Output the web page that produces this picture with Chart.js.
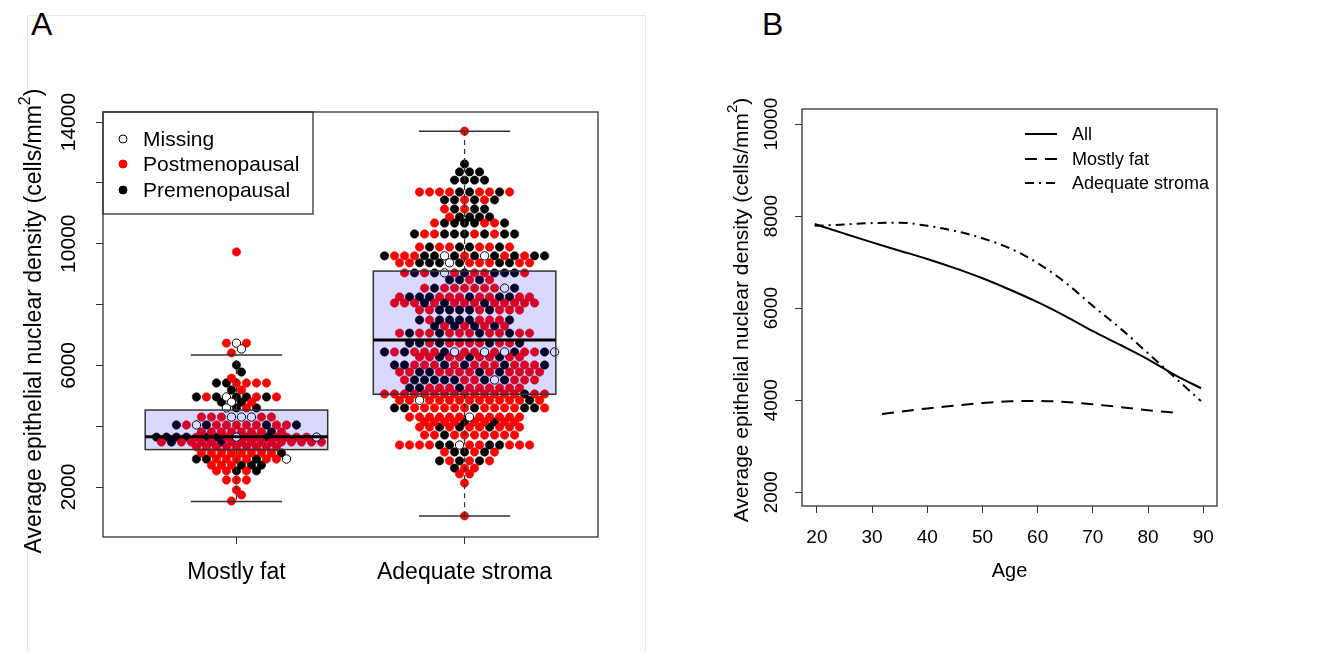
<!DOCTYPE html>
<html>
<head>
<meta charset="utf-8">
<script src="https://cdn.jsdelivr.net/npm/chart.js@4.4.1/dist/chart.umd.min.js"></script>
<style>
  body { margin: 0; background: #fff; width: 1326px; height: 652px; overflow: hidden; position: relative;
         font-family: 'Liberation Sans', Arial, sans-serif; }
  #frameA { position: absolute; left: 27px; top: 15px; width: 619px; height: 660px; border: 1px solid #e6e6e6; box-sizing: border-box; }
  .tag { position: absolute; font-size: 32px; line-height: 32px; color: #000; }
  canvas { position: absolute; top: 0; }
</style>
</head>
<body>
<div id="frameA"></div>
<div class="tag" style="left:31px;top:8px">A</div>
<div class="tag" style="left:762px;top:8px">B</div>
<canvas id="chartA" width="650" height="652" style="left:0"></canvas>
<canvas id="chartB" width="676" height="652" style="left:650px"></canvas>
<script>
const FONT = "'Liberation Sans', Arial, sans-serif";

// ---- panel A: beeswarm + boxplot ----
const groups = ['Mostly fat', 'Adequate stroma'];
const statusNames = ['Missing', 'Postmenopausal', 'Premenopausal'];

// swarm rows: density of the row and status of each dot
// (o = missing, r = postmenopausal, k = premenopausal), left to right
const fatRowY = [9730, 6730, 6540, 6410, 6010, 5780, 5580, 5420, 5190, 4960, 4790, 4600, 4300,
                 4040, 3810, 3640, 3480, 3320, 3120, 2920, 2720, 2530, 2230, 1900, 1740, 1540];
const fatRowPts = ['r', 'ror', 'o', 'r', 'k', 'k', 'r', 'kkrrrr', 'kr', 'krkokkrkr', 'kokr', 'okrk', 'rrrooorr',
                   'krokrrrrrkrrk', 'rrrrrrrkr', 'kkkkrkkrorrkrrrro', 'rkrrrrkrrrrrrrrrr', 'rrrrrrrrr', 'rrrrrrrrk',
                   'kkrrrrkrro', 'rrrkkk', 'rrkrk', 'rrr', 'r', 'r', 'r'];

const stromaRowY = [13700, 12620, 12360, 12090, 11700, 11440, 11140, 10880, 10680, 10320, 9890, 9600, 9370,
                    9040, 8810, 8540, 8250, 8050, 7820, 7490, 7290, 7060, 6730, 6440, 6270, 6010, 5780, 5520,
                    5260, 5060, 4850, 4600, 4300, 4140, 3970, 3710, 3380, 3150, 2860, 2620, 2430, 2130, 1050];
const stromaRowPts = ['r', 'k', 'kkk', 'kkkk', 'rrrrkkrrkr', 'kkrkrk', 'rkrkk', 'rkkkk', 'rkkkkrrk', 'krrkkkrkrkk',
                      'rkrrkkrrkr', 'krrrkkokrkokrkrkk', 'rrkkkokrrrkkrr', 'rkrkorkrrkkkr', 'kkrkr', 'rkrrrrrrok',
                      'rkkkrrrkrrkkrr', 'rrrkrkrrrkrrrrr', 'rrkkkkrkrrr', 'krkkkkrrrk', 'krkrkrkr', 'rkrrkrrrkrrkrr',
                      'kkrkrrrrkrrk', 'krkrrrkorrorokrrko', 'rrkrrkrrkrr', 'kkrrrkrkrrrkrrrk', 'rrkkrrrrkrkrrrr',
                      'rkkkkkrrkokrrr', 'kkrrrkrrrrrr', 'rrrrrrrrrrrrrrkrr', 'rrorrrrrrrrrrkr', 'kkrrrrrrkrrrrkkr',
                      'rrrrrrorrrrr', 'rrrrkrrkrr', 'rrkrkrrkrrr', 'rrkrrrrrrr', 'rrrrkkorrkkrrr', 'rkkrkr', 'krkrkr',
                      'krr', 'rr', 'r', 'r'];

// box statistics
const boxLow = [1520, 1050];
const boxQ1 = [3230, 5050];
const boxMedian = [3650, 6830];
const boxQ3 = [4530, 9100];
const boxHigh = [6340, 13700];

const densityTicksA = [2000, 4000, 6000, 8000, 10000, 12000, 14000];
const densityLabelsA = [2000, 6000, 10000, 14000];

// ---- panel B: fitted curves ----
const ageTicks = [20, 30, 40, 50, 60, 70, 80, 90];
const densityTicksB = [2000, 4000, 6000, 8000, 10000];
const curveNames = ['All', 'Mostly fat', 'Adequate stroma'];
const ageAll = [19.6, 25, 30, 35, 40, 45, 50, 55, 60, 65, 70, 75, 80, 85, 89.6];
const densAll = [7830, 7620, 7430, 7250, 7070, 6870, 6650, 6400, 6130, 5830, 5500, 5200, 4890, 4540, 4260];
const ageFat = [31.8, 35, 40, 45, 50, 55, 60, 65, 70, 75, 80, 84.6];
const densFat = [3700, 3750, 3820, 3880, 3940, 3975, 3985, 3960, 3910, 3850, 3780, 3730];
const ageStroma = [19.6, 25, 30, 35, 40, 45, 50, 55, 60, 65, 70, 75, 80, 85, 89.6];
const densStroma = [7790, 7820, 7850, 7860, 7790, 7680, 7520, 7300, 6980, 6560, 6050, 5560, 5020, 4480, 3980];

// rows are centred on the group; a row is nudged half a step
// when it would sit right on top of the row before it
const STEP = 10 / 228;
function layRows(center, rowY, rowPts) {
  const out = { o: [], r: [], k: [] };
  let prev = null, prevY = null;
  rowY.forEach((y, i) => {
    const s = rowPts[i], n = s.length;
    let best = 0, bestD = -1;
    for (const shift of [0, STEP / 2, -STEP / 2]) {
      let d = Infinity;
      if (prev && Math.abs(prevY - y) < 300) {
        for (let j = 0; j < n; j++) {
          const xo = (j - (n - 1) / 2) * STEP + shift;
          for (const p of prev) d = Math.min(d, Math.abs(p - xo));
        }
      }
      if (d > bestD + 1e-9) { bestD = d; best = shift; }
    }
    const xs = [];
    for (let j = 0; j < n; j++) {
      const xo = (j - (n - 1) / 2) * STEP + best;
      xs.push(xo);
      out[s[j]].push({ x: center + xo, y: y });
    }
    prev = xs; prevY = y;
  });
  return out;
}

const swarmFat = layRows(1, fatRowY, fatRowPts);
const swarmStroma = layRows(2, stromaRowY, stromaRowPts);

function rotatedText(ctx, text, x, y, size) {
  ctx.save();
  ctx.translate(x, y);
  ctx.rotate(-Math.PI / 2);
  ctx.font = size + 'px ' + FONT;
  ctx.fillStyle = '#000';
  ctx.textAlign = 'center';
  ctx.textBaseline = 'middle';
  ctx.fillText(text, 0, 0);
  ctx.restore();
}

// y title with the superscript 2
function densityTitle(ctx, x, y, size) {
  const main = 'Average epithelial nuclear density (cells/mm', sup = '2', tail = ')';
  const supSize = Math.round(size * 0.7);
  ctx.save();
  ctx.translate(x, y);
  ctx.rotate(-Math.PI / 2);
  ctx.fillStyle = '#000';
  ctx.textAlign = 'left';
  ctx.textBaseline = 'alphabetic';
  ctx.font = size + 'px ' + FONT;
  const w1 = ctx.measureText(main).width, w3 = ctx.measureText(tail).width;
  ctx.font = supSize + 'px ' + FONT;
  const w2 = ctx.measureText(sup).width;
  let px = -(w1 + w2 + w3) / 2;
  const base = size * 0.36;
  ctx.font = size + 'px ' + FONT;
  ctx.fillText(main, px, base); px += w1;
  ctx.font = supSize + 'px ' + FONT;
  ctx.fillText(sup, px, base - size * 0.5); px += w2;
  ctx.font = size + 'px ' + FONT;
  ctx.fillText(tail, px, base);
  ctx.restore();
}

function seg(ctx, x1, y1, x2, y2) {
  ctx.beginPath(); ctx.moveTo(x1, y1); ctx.lineTo(x2, y2); ctx.stroke();
}

const boxPlugin = {
  id: 'boxes',
  afterDatasetsDraw(chart) {
    const { ctx, scales: { x, y } } = chart;
    ctx.save();
    groups.forEach((g, i) => {
      const c = i + 1;
      const xc = x.getPixelForValue(c);
      const l = x.getPixelForValue(c - 0.4), r = x.getPixelForValue(c + 0.4);
      const cl = x.getPixelForValue(c - 0.2), cr = x.getPixelForValue(c + 0.2);
      const lo = y.getPixelForValue(boxLow[i]), q1 = y.getPixelForValue(boxQ1[i]);
      const md = y.getPixelForValue(boxMedian[i]), q3 = y.getPixelForValue(boxQ3[i]);
      const hi = y.getPixelForValue(boxHigh[i]);
      ctx.strokeStyle = '#333';
      ctx.lineWidth = 1.2;
      ctx.setLineDash([5, 4]);
      seg(ctx, xc, q3, xc, hi);
      seg(ctx, xc, q1, xc, lo);
      ctx.setLineDash([]);
      ctx.lineWidth = 1.5;
      seg(ctx, cl, hi, cr, hi);
      seg(ctx, cl, lo, cr, lo);
      ctx.fillStyle = 'rgba(0,0,255,0.15)';
      ctx.fillRect(l, q3, r - l, q1 - q3);
      ctx.strokeRect(l, q3, r - l, q1 - q3);
      ctx.strokeStyle = '#000';
      ctx.lineWidth = 3;
      seg(ctx, l, md, r, md);
    });
    ctx.restore();
  },
  afterDraw(chart) {
    const { ctx, chartArea: a, scales: { y } } = chart;
    ctx.save();
    ctx.strokeStyle = '#333';
    ctx.lineWidth = 1.3;
    ctx.strokeRect(a.left, a.top, a.width, a.height);
    densityLabelsA.forEach(v => rotatedText(ctx, String(v), 69, y.getPixelForValue(v), 21));
    densityTitle(ctx, 33, 321, 23);

    // legend box, top-left corner of the plot
    ctx.strokeRect(a.left, a.top, 210, 102);
    const rowsY = [139, 164, 190];
    const fills = ['#fff', '#ff0000', '#000'];
    statusNames.forEach((name, i) => {
      ctx.beginPath();
      ctx.arc(123, rowsY[i], 4, 0, Math.PI * 2);
      ctx.fillStyle = fills[i];
      ctx.fill();
      ctx.lineWidth = 1;
      ctx.strokeStyle = i === 1 ? '#ee0000' : '#000';
      ctx.stroke();
      ctx.fillStyle = '#000';
      ctx.font = '21px ' + FONT;
      ctx.textAlign = 'left';
      ctx.textBaseline = 'middle';
      ctx.fillText(name, 143, rowsY[i] + 1);
    });
    ctx.restore();
  }
};

const pointStyle = (fill, line, w) => ({
  backgroundColor: fill, borderColor: line, borderWidth: w, pointRadius: 4.2, pointHoverRadius: 4.2
});

new Chart(document.getElementById('chartA'), {
  type: 'scatter',
  data: {
    datasets: [
      { label: statusNames[0], data: swarmFat.o.concat(swarmStroma.o), ...pointStyle('#fff', '#000', 1) },
      { label: statusNames[1], data: swarmFat.r.concat(swarmStroma.r), ...pointStyle('#ff0000', '#e00000', 0.6) },
      { label: statusNames[2], data: swarmFat.k.concat(swarmStroma.k), ...pointStyle('#000', '#000', 0.6) }
    ]
  },
  options: {
    responsive: false,
    animation: false,
    layout: { padding: { top: 112, right: 52, left: 0, bottom: 0 } },
    plugins: { legend: { display: false }, tooltip: { enabled: false } },
    scales: {
      x: {
        type: 'linear', min: 0.415, max: 2.585,
        afterBuildTicks: s => { s.ticks = groups.map((g, i) => ({ value: i + 1 })); },
        afterFit: s => { s.height = 115; },
        ticks: { callback: v => groups[v - 1], color: '#000', font: { size: 23, family: FONT }, padding: 15, maxRotation: 0 },
        grid: { drawOnChartArea: false, tickLength: 7, color: '#333' },
        border: { display: false }
      },
      y: {
        min: 356, max: 14330,
        afterBuildTicks: s => { s.ticks = densityTicksA.map(v => ({ value: v })); },
        afterFit: s => { s.width = 103; },
        ticks: { display: false },
        grid: { drawOnChartArea: false, tickLength: 7, color: '#333' },
        border: { display: false }
      }
    }
  },
  plugins: [boxPlugin]
});

// ---- panel B ----
const curvePlugin = {
  id: 'curveFrame',
  afterDraw(chart) {
    const { ctx, chartArea: a, scales: { y } } = chart;
    ctx.save();
    ctx.strokeStyle = '#333';
    ctx.lineWidth = 1.3;
    ctx.strokeRect(a.left, a.top, a.width, a.height);
    densityTicksB.forEach(v => rotatedText(ctx, String(v), 122, y.getPixelForValue(v), 19));
    densityTitle(ctx, 90, 310, 21);
    ctx.font = '20px ' + FONT;
    ctx.fillStyle = '#000';
    ctx.textAlign = 'center';
    ctx.textBaseline = 'middle';
    ctx.fillText('Age', (a.left + a.right) / 2, 571);

    const rowsY = [134, 159, 183];
    ctx.font = '18px ' + FONT;
    chart.data.datasets.forEach((ds, i) => {
      ctx.strokeStyle = '#000';
      ctx.lineWidth = 2;
      ctx.setLineDash(ds.borderDash || []);
      seg(ctx, 375, rowsY[i], 407, rowsY[i]);
      ctx.setLineDash([]);
      ctx.textAlign = 'left';
      ctx.fillText(curveNames[i], 422, rowsY[i] + 1);
    });
    ctx.restore();
  }
};

const curve = (ages, dens, dash) => ({
  data: ages.map((a, i) => ({ x: a, y: dens[i] })),
  borderColor: '#000', borderWidth: 2, borderDash: dash, pointRadius: 0,
  cubicInterpolationMode: 'monotone', fill: false
});

new Chart(document.getElementById('chartB'), {
  type: 'line',
  data: {
    datasets: [
      { label: curveNames[0], ...curve(ageAll, densAll, []) },
      { label: curveNames[1], ...curve(ageFat, densFat, [12, 8]) },
      { label: curveNames[2], ...curve(ageStroma, densStroma, [9, 5, 2, 5]) }
    ]
  },
  options: {
    responsive: false,
    animation: false,
    layout: { padding: { top: 109, right: 109, left: 0, bottom: 0 } },
    plugins: { legend: { display: false }, tooltip: { enabled: false } },
    scales: {
      x: {
        type: 'linear', min: 17.3, max: 92.5,
        afterBuildTicks: s => { s.ticks = ageTicks.map(v => ({ value: v })); },
        afterFit: s => { s.height = 146; },
        ticks: { color: '#000', font: { size: 19, family: FONT }, padding: 13, maxRotation: 0 },
        grid: { drawOnChartArea: false, tickLength: 7, color: '#333' },
        border: { display: false }
      },
      y: {
        min: 1700, max: 10330,
        afterBuildTicks: s => { s.ticks = densityTicksB.map(v => ({ value: v })); },
        afterFit: s => { s.width = 152; },
        ticks: { display: false },
        grid: { drawOnChartArea: false, tickLength: 7, color: '#333' },
        border: { display: false }
      }
    }
  },
  plugins: [curvePlugin]
});
</script>
</body>
</html>
